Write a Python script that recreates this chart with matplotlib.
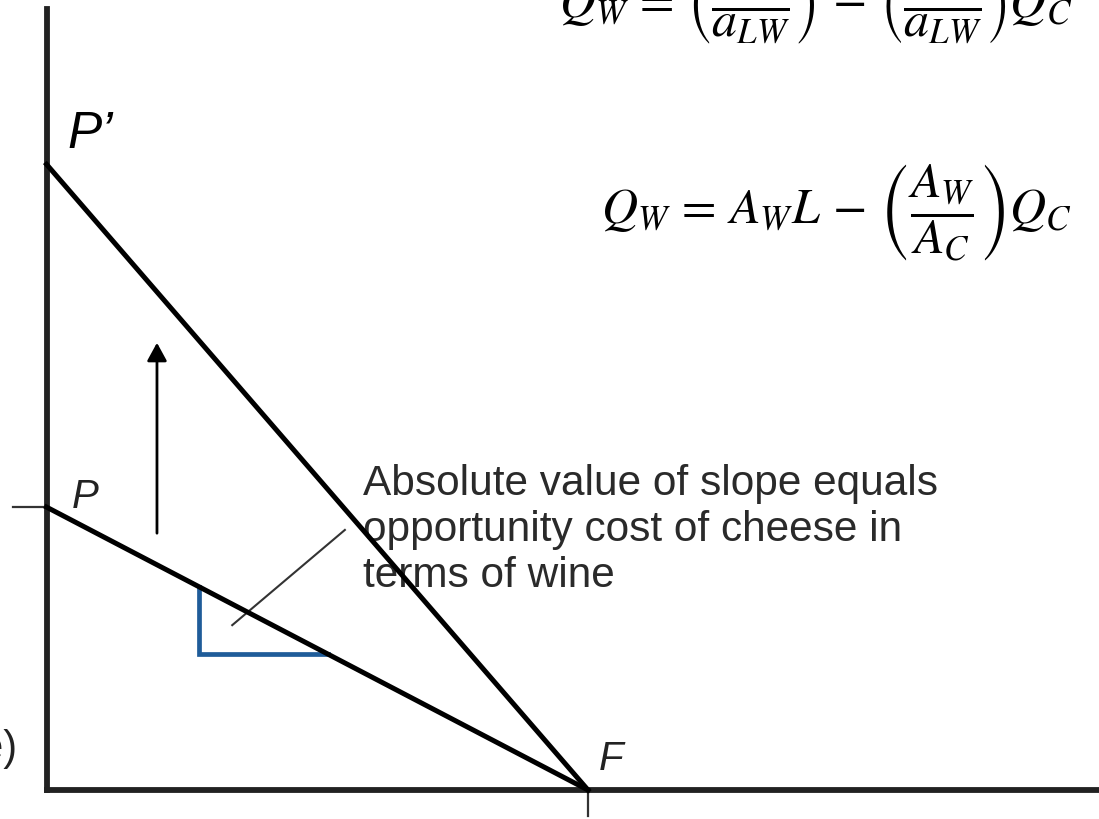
import matplotlib.pyplot as plt

plt.rcParams['mathtext.fontset'] = 'stix'

# production possibility frontier (cheese on x, wine on y)
cheese_max = 100          # F, same in both cases
wine_max_old = 52         # P
wine_max_new = 115        # P'

# little slope triangle under the old frontier
tri_x = [28.2, 52.0]

# leader from the note to the triangle, and the shift arrow
leader_x = [34.3, 55.1]
leader_y = [30.3, 47.8]
arrow_x = 20.4
arrow_y = [47.2, 82.2]

note_lines = ['Absolute value of slope equals',
              'opportunity cost of cheese in',
              'terms of wine']
note_y = [54.2, 45.8, 37.3]

eq_top = (r'$Q_W \,=\, \left(\dfrac{L}{a_{LW}}\right) \,-\, '
          r'\left(\dfrac{a_{LC}}{a_{LW}}\right)Q_C$')
eq_mid = r'$Q_W \,=\, A_W L \,-\, \left(\dfrac{A_W}{A_C}\right)Q_C$'


def old_ppf(x):
    return wine_max_old * (1 - x / cheese_max)


fig = plt.figure(figsize=(10.99, 8.19), dpi=100)
ax = fig.add_axes([0, 0, 1, 1])
ax.set_xlim(-8.59, 194.37)
ax.set_ylim(-5.33, 145.2)
ax.axis('off')

# axes
ax.plot([0, 0], [0, 143.6], color='#222222', lw=4.2, solid_capstyle='projecting')
ax.plot([0, 200], [0, 0], color='#222222', lw=4.2, solid_capstyle='projecting')
ax.plot([-6.2, 0], [wine_max_old, wine_max_old], color='#333333', lw=1.6)
ax.plot([cheese_max, cheese_max], [0, -4.8], color='#333333', lw=1.6)

# frontiers
ax.plot([0, cheese_max], [wine_max_old, 0], color='black', lw=3.6, zorder=4)
ax.plot([0, cheese_max], [wine_max_new, 0], color='black', lw=3.6, zorder=4)

# slope triangle
ax.plot([tri_x[0], tri_x[0], tri_x[1]],
        [old_ppf(tri_x[0]), old_ppf(tri_x[1]), old_ppf(tri_x[1])],
        color='#1f5c99', lw=3.4, solid_joinstyle='miter', zorder=3)

ax.plot(leader_x, leader_y, color='#333333', lw=1.5, zorder=3)

ax.annotate('', xy=(arrow_x, arrow_y[1]), xytext=(arrow_x, arrow_y[0]),
            arrowprops=dict(arrowstyle='-|>,head_length=0.55,head_width=0.3',
                            mutation_scale=20, lw=2, color='black',
                            shrinkA=0, shrinkB=0))

# labels
ax.text(4.7, 51.8, 'P', fontsize=29, style='italic', family='Liberation Sans',
        color='#222222')
ax.text(3.8, 118.0, 'P’', fontsize=37, style='italic', family='Liberation Sans',
        color='black')
ax.text(101.9, 3.7, 'F', fontsize=29, style='italic', family='Liberation Sans',
        color='#222222')
ax.text(-5.45, 5.5, '(wine)', fontsize=30, family='Liberation Sans',
        color='#222222', ha='right')

for line, y in zip(note_lines, note_y):
    ax.text(58.5, y, line, fontsize=30.5, family='Liberation Sans',
            color='#2a2a2a', zorder=2)

# equations
ax.text(189.4, 141.9, eq_top, fontsize=36, ha='right', va='baseline')
ax.text(189.4, 104.0, eq_mid, fontsize=36, ha='right', va='baseline')

fig.savefig('out.png', dpi=100)
